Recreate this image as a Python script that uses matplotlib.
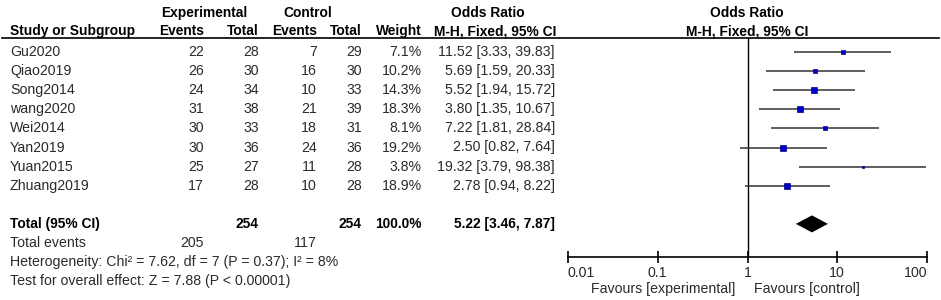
import matplotlib
matplotlib.use('Agg')
import matplotlib.pyplot as plt
import numpy as np

plt.rcParams['font.family'] = ['Liberation Sans', 'DejaVu Sans']

# data
studies = ['Gu2020', 'Qiao2019', 'Song2014', 'wang2020', 'Wei2014',
           'Yan2019', 'Yuan2015', 'Zhuang2019']
exp_events = [22, 26, 24, 31, 30, 30, 25, 17]
exp_total = [28, 30, 34, 38, 33, 36, 27, 28]
ctl_events = [7, 16, 10, 21, 18, 24, 11, 10]
ctl_total = [29, 30, 33, 39, 31, 36, 28, 28]
weight = [7.1, 10.2, 14.3, 18.3, 8.1, 19.2, 3.8, 18.9]
odds = [11.52, 5.69, 5.52, 3.80, 7.22, 2.50, 19.32, 2.78]
ci_lo = [3.33, 1.59, 1.94, 1.35, 1.81, 0.82, 3.79, 0.94]
ci_hi = [39.83, 20.33, 15.72, 10.67, 28.84, 7.64, 98.38, 8.22]

total_exp, total_ctl = 254, 254
events_exp, events_ctl = 205, 117
pooled, pooled_lo, pooled_hi = 5.22, 3.46, 7.87
het_text = 'Heterogeneity: Chi\u00b2 = 7.62, df = 7 (P = 0.37); I\u00b2 = 8%'
z_text = 'Test for overall effect: Z = 7.88 (P < 0.00001)'
axis_ticks = [0.01, 0.1, 1, 10, 100]
axis_labels = ['0.01', '0.1', '1', '10', '100']

W, H = 941, 300
fig = plt.figure(figsize=(W / 100, H / 100), dpi=100)

# background axes in pixel coordinates for the table text
bg = fig.add_axes([0, 0, 1, 1])
bg.set_xlim(0, W)
bg.set_ylim(H, 0)
bg.axis('off')

fs = 10.2
fsb = 9.9
txt = '#2a2a2a'
row0, step = 52, 19.1
cols = [204, 259, 317, 362, 422, 555]

# headers
bold = dict(fontsize=fsb, fontweight='bold', color='black', va='center')
bg.text(204, 13, 'Experimental', ha='center', **bold)
bg.text(308, 13, 'Control', ha='center', **bold)
bg.text(488, 13, 'Odds Ratio', ha='center', **bold)
bg.text(747, 13, 'Odds Ratio', ha='center', **bold)
bg.text(10, 31, 'Study or Subgroup', ha='left', **bold)
for x, h in zip(cols[:5], ['Events', 'Total', 'Events', 'Total', 'Weight']):
    bg.text(x, 31, h, ha='right', **bold)
bg.text(495, 31, 'M-H, Fixed, 95% CI', ha='center', **bold)
bg.text(747, 31, 'M-H, Fixed, 95% CI', ha='center', **bold)
bg.plot([2, 939], [37.7, 37.7], color='black', lw=1.2)

# study rows
reg = dict(fontsize=fs, color=txt, va='center')
for i, s in enumerate(studies):
    y = row0 + i * step
    bg.text(10, y, s, ha='left', **reg)
    vals = [str(exp_events[i]), str(exp_total[i]), str(ctl_events[i]),
            str(ctl_total[i]), f'{weight[i]:.1f}%',
            f'{odds[i]:.2f} [{ci_lo[i]:.2f}, {ci_hi[i]:.2f}]']
    for x, v in zip(cols, vals):
        bg.text(x, y, v, ha='right', **reg)

# totals
yt = row0 + 9 * step
bg.text(10, yt, 'Total (95% CI)', ha='left', **bold)
bg.text(cols[1], yt, str(total_exp), ha='right', **bold)
bg.text(cols[3], yt, str(total_ctl), ha='right', **bold)
bg.text(cols[4], yt, '100.0%', ha='right', **bold)
bg.text(cols[5], yt, f'{pooled:.2f} [{pooled_lo:.2f}, {pooled_hi:.2f}]', ha='right', **bold)
bg.text(10, yt + step, 'Total events', ha='left', **reg)
bg.text(cols[0], yt + step, str(events_exp), ha='right', **reg)
bg.text(cols[2], yt + step, str(events_ctl), ha='right', **reg)
bg.text(10, yt + 2 * step, het_text, ha='left', **reg)
bg.text(10, yt + 3 * step, z_text, ha='left', **reg)
bg.text(735, 289, 'Favours [experimental]', ha='right', **reg)
bg.text(754, 289, 'Favours [control]', ha='left', **reg)

# forest axes: x=0.01 at px 568, x=100 at px 927; top at header line, bottom at px 257
top_px, bot_px = 37.7, 257
ax = fig.add_axes([568 / W, (H - bot_px) / H, (927 - 568) / W, (bot_px - top_px) / H])
ax.set_xscale('log')
ax.set_xlim(0.01, 100)
ax.set_ylim((bot_px - row0) / step, (top_px - row0) / step)
ax.patch.set_alpha(0)
for side in ['top', 'left', 'right']:
    ax.spines[side].set_visible(False)
ax.spines['bottom'].set_linewidth(1.2)
ax.set_yticks([])
ax.set_xticks(axis_ticks)
ax.set_xticklabels(axis_labels)
ax.minorticks_off()
ax.tick_params(axis='x', direction='inout', length=9, width=1.2, pad=2,
               labelsize=fs, labelcolor=txt)
labs = ax.get_xticklabels()
labs[0].set_ha('left')
labs[-1].set_ha('right')

ax.axvline(1, color='black', lw=1)
for i in range(len(studies)):
    ax.plot([ci_lo[i], ci_hi[i]], [i, i], color='#333333', lw=1.1, solid_capstyle='butt')
    ax.plot(odds[i], i, marker='s', ms=np.sqrt(weight[i]) * 1.05,
            color='#0000cc', mec='#000088', mew=0.5)

# pooled diamond
dy = 8.5 / step
ax.fill([pooled_lo, pooled, pooled_hi, pooled], [9, 9 - dy, 9, 9 + dy],
        color='black', lw=0)

fig.savefig('out.png', dpi=100)
